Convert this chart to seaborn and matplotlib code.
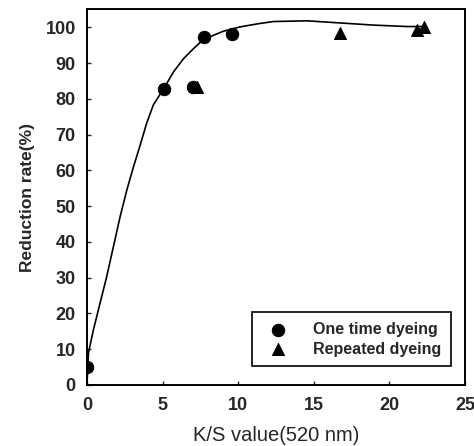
import pandas as pd
import seaborn as sns
import matplotlib.pyplot as plt

# data
one_x = [0, 5.1, 7.0, 7.75, 9.6]
one_y = [5, 82.8, 83.3, 97.4, 98.0]

rep_x = [7.25, 16.75, 21.8, 22.3]
rep_y = [83.2, 98.4, 99.3, 100.0]

fit_x = [0, 0.1, 0.42, 0.86, 1.3, 1.74, 2.19, 2.63, 3.07, 3.5, 3.95, 4.39,
         5.1, 5.72, 6.38, 7.04, 7.7, 9.03, 10.13, 11.35, 12.34, 14.55,
         16.75, 18.96, 21.17, 22.3]
fit_y = [0, 9, 15.3, 22.8, 30.2, 38.5, 47, 54.4, 60.9, 66.8, 73.2, 78.3,
         83.0, 87.5, 91.2, 94, 96.6, 98.9, 100.1, 101, 101.6, 101.8,
         101.2, 100.6, 100.2, 100.2]

sns.set_style("ticks")
plt.rcParams['font.family'] = ['Liberation Sans', 'DejaVu Sans']

fit_df = pd.DataFrame({'x': fit_x, 'y': fit_y})
one_df = pd.DataFrame({'x': one_x, 'y': one_y})
rep_df = pd.DataFrame({'x': rep_x, 'y': rep_y})

fig = plt.figure(figsize=(4.74, 4.46), dpi=100)
ax = fig.add_axes([0.1835, 0.137, 0.7975, 0.842])

sns.lineplot(x='x', y='y', data=fit_df, sort=False, estimator=None,
             color='black', linewidth=1.2, ax=ax)
sns.scatterplot(x='x', y='y', data=rep_df, marker='^', s=75, color='black',
                edgecolor='black', label='Repeated dyeing', ax=ax, zorder=3)
sns.scatterplot(x='x', y='y', data=one_df, marker='o', s=80, color='black',
                edgecolor='black', label='One time dyeing', ax=ax, zorder=4)

ax.set_xlim(0, 25)
ax.set_ylim(0, 105)
ax.set_xticks([0, 5, 10, 15, 20, 25])
ax.set_yticks(range(0, 101, 10))
ax.tick_params(direction='in', length=3, width=1, labelsize=13)
ax.tick_params(axis='y', pad=8)
ax.tick_params(axis='x', pad=9)
for lab in ax.get_xticklabels() + ax.get_yticklabels():
    lab.set_fontweight('bold')
for sp in ax.spines.values():
    sp.set_visible(True)
    sp.set_linewidth(1.4)
    sp.set_color('black')

ax.set_xlabel('K/S value(520 nm)', fontsize=14.5, labelpad=8)
ax.set_ylabel('Reduction rate(%)', fontsize=12.5, fontweight='bold', labelpad=8)

handles, labels = ax.get_legend_handles_labels()
leg = ax.legend(handles[::-1], labels[::-1], loc='lower right',
                bbox_to_anchor=(0.963, 0.05), borderaxespad=0,
                fancybox=False, framealpha=1,
                edgecolor='black', prop={'size': 11.5, 'weight': 'bold'},
                handletextpad=1.2, borderpad=0.6, labelspacing=0.3)
leg.get_frame().set_linewidth(1.2)

plt.savefig('out.png', dpi=100)
